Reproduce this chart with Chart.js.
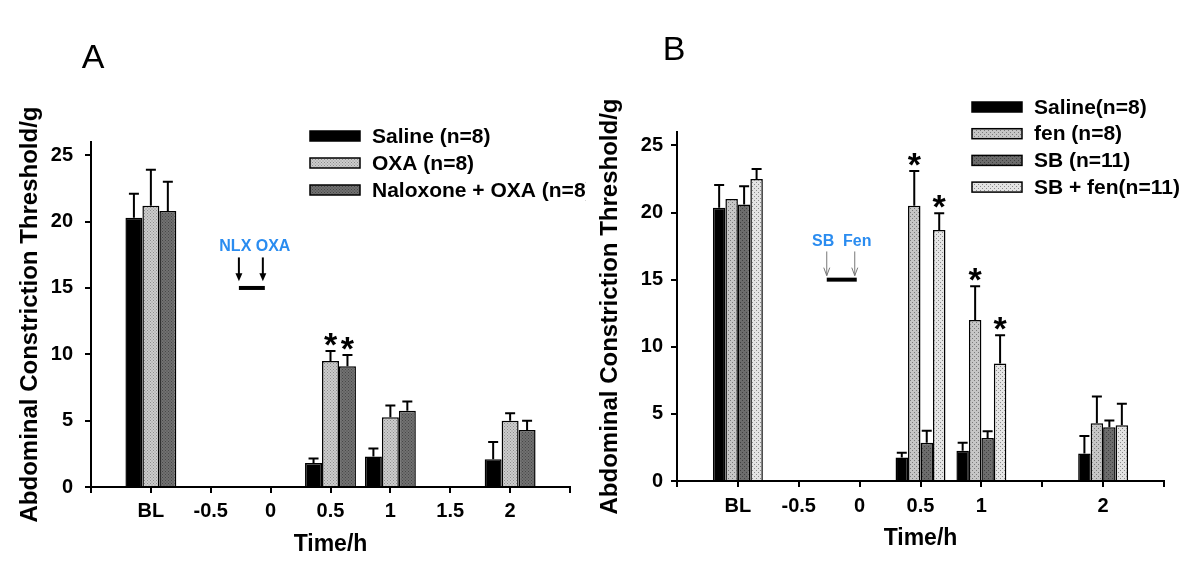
<!DOCTYPE html>
<html>
<head>
<meta charset="utf-8">
<script src="https://cdn.jsdelivr.net/npm/chart.js@4.4.0/dist/chart.umd.min.js"></script>
<style>
  body { margin: 0; background: #fff; }
  #wrap { position: relative; width: 1200px; height: 581px; background: #fff; }
  #panelA { position: absolute; left: 0; top: 0; }
  #panelB { position: absolute; left: 586px; top: 0; }
</style>
</head>
<body>
<div id="wrap">
  <canvas id="panelA" width="586" height="581" style="width:586px;height:581px"></canvas>
  <canvas id="panelB" width="614" height="581" style="width:614px;height:581px"></canvas>
</div>
<script>
// ---- shared ----
const yTickValues = [0, 5, 10, 15, 20, 25];

// ---- panel A data ----
const labelsA = ['', 'BL', '-0.5', '0', '0.5', '1', '1.5', '2', ''];
const salineA = [null, 20.3, null, null, 1.8, 2.3, null, 2.1, null];
const salineAErr = [null, 1.8, null, null, 0.35, 0.6, null, 1.3, null];
const oxaA = [null, 21.2, null, null, 9.5, 5.25, null, 5.0, null];
const oxaAErr = [null, 2.7, null, null, 0.75, 0.9, null, 0.55, null];
const naloxA = [null, 20.8, null, null, 9.1, 5.75, null, 4.3, null];
const naloxAErr = [null, 2.2, null, null, 0.85, 0.7, null, 0.7, null];
const oxaAStars = [4];
const naloxAStars = [4];

// ---- panel B data ----
const labelsB = ['', 'BL', '-0.5', '0', '0.5', '1', '', '2', ''];
const salineB = [null, 20.35, null, null, 1.75, 2.25, null, 2.05, null];
const salineBErr = [null, 1.7, null, null, 0.35, 0.6, null, 1.3, null];
const fenB = [null, 21.0, null, null, 20.5, 12.0, null, 4.3, null];
const fenBErr = [null, 0, null, null, 2.6, 2.5, null, 2.0, null];
const sbB = [null, 20.6, null, null, 2.85, 3.2, null, 4.0, null];
const sbBErr = [null, 1.35, null, null, 0.9, 0.5, null, 0.5, null];
const sbFenB = [null, 22.5, null, null, 18.7, 8.75, null, 4.15, null];
const sbFenBErr = [null, 0.75, null, null, 1.25, 2.1, null, 1.6, null];
const fenBStars = [4, 5];
const sbFenBStars = [4, 5];

const FONT = 'Arial, "Liberation Sans", sans-serif';

function dots(base, dot, size) {
    const c = document.createElement('canvas');
    c.width = size; c.height = size;
    const g = c.getContext('2d');
    g.fillStyle = base;
    g.fillRect(0, 0, size, size);
    g.fillStyle = dot;
    g.fillRect(0, 0, 1, 1);
    g.fillRect(size / 2, size / 2, 1, 1);
    return g.createPattern(c, 'repeat');
}

// error bars + significance stars
const errorBars = {
    id: 'errorBars',
    afterDatasetsDraw(chart) {
        const ctx = chart.ctx;
        const y = chart.scales.y;
        ctx.save();
        chart.data.datasets.forEach((ds, i) => {
            const meta = chart.getDatasetMeta(i);
            meta.data.forEach((bar, j) => {
                const v = ds.data[j];
                if (v == null || isNaN(bar.x)) return;
                const e = ds.errors[j] || 0;
                const top = y.getPixelForValue(v + e);
                if (e > 0) {
                    ctx.strokeStyle = '#000';
                    ctx.lineWidth = 2;
                    ctx.beginPath();
                    ctx.moveTo(bar.x, bar.y);
                    ctx.lineTo(bar.x, top);
                    ctx.moveTo(bar.x - 5, top);
                    ctx.lineTo(bar.x + 5, top);
                    ctx.stroke();
                }
                if (ds.stars.includes(j)) {
                    ctx.fillStyle = '#000';
                    ctx.font = 'bold 34px ' + FONT;
                    ctx.textAlign = 'center';
                    ctx.textBaseline = 'alphabetic';
                    ctx.fillText('*', bar.x, top + 5);
                }
            });
        });
        ctx.restore();
    }
};

// panel letter, legend and dosing marker
const decor = {
    id: 'decor',
    afterDraw(chart, args, o) {
        const ctx = chart.ctx;
        ctx.save();
        ctx.fillStyle = '#000';
        ctx.font = '34px ' + FONT;
        ctx.textAlign = 'center';
        ctx.textBaseline = 'middle';
        ctx.fillText(o.letter, o.letterX, o.letterY);

        ctx.font = 'bold 21px ' + FONT;
        ctx.textAlign = 'left';
        chart.data.datasets.forEach((ds, i) => {
            const cy = o.legendY + i * o.legendStep;
            ctx.fillStyle = ds.backgroundColor;
            ctx.fillRect(o.legendX, cy - 5, 50, 10);
            ctx.lineWidth = 1.5;
            ctx.strokeStyle = '#000';
            ctx.strokeRect(o.legendX, cy - 5, 50, 10);
            ctx.fillStyle = '#000';
            ctx.fillText(ds.label, o.legendX + 62, cy + 1);
        });

        const m = o.marker;
        const xs = chart.scales.x, ys = chart.scales.y;
        const x1 = xs.getPixelForValue(m.at[0]);
        const x2 = xs.getPixelForValue(m.at[1]);
        ctx.fillStyle = m.textColor;
        ctx.font = 'bold 16px ' + FONT;
        ctx.textAlign = 'center';
        ctx.fillText(m.text, (x1 + x2) / 2 + m.textShift, ys.getPixelForValue(m.textY));

        const yTop = ys.getPixelForValue(m.arrowTop);
        const yEnd = ys.getPixelForValue(m.arrowEnd);
        [x1, x2].forEach(x => {
            ctx.strokeStyle = m.arrowColor;
            ctx.fillStyle = m.arrowColor;
            ctx.lineWidth = m.arrowWidth;
            ctx.beginPath();
            ctx.moveTo(x, yTop);
            ctx.lineTo(x, yEnd - (m.filledHead ? 6 : 0));
            ctx.stroke();
            ctx.beginPath();
            if (m.filledHead) {
                ctx.moveTo(x - 3.5, yEnd - 8);
                ctx.lineTo(x + 3.5, yEnd - 8);
                ctx.lineTo(x, yEnd);
                ctx.closePath();
                ctx.fill();
            } else {
                ctx.moveTo(x - 3, yEnd - 8);
                ctx.lineTo(x, yEnd);
                ctx.lineTo(x + 3, yEnd - 8);
                ctx.stroke();
            }
        });
        const yBar = ys.getPixelForValue(m.barY);
        ctx.strokeStyle = '#000';
        ctx.lineWidth = 4;
        ctx.beginPath();
        ctx.moveTo(x1, yBar);
        ctx.lineTo(x2 + 2, yBar);
        ctx.stroke();
        ctx.restore();
    }
};

function scales(labels, s) {
    return {
        x: {
            type: 'category',
            labels: labels,
            offset: false,
            grid: { offset: false, drawOnChartArea: false, tickLength: 6, color: '#000', lineWidth: 2 },
            border: { color: '#000', width: 2 },
            ticks: { color: '#000', font: { family: FONT, size: 20, weight: 'bold' }, padding: s.xPad, autoSkip: false, maxRotation: 0 },
            title: { display: true, text: 'Time/h', color: '#000', font: { family: FONT, size: 23, weight: 'bold' }, padding: { top: 4, bottom: 4 } },
            afterFit: sc => { sc.height = s.xH; }
        },
        y: {
            min: 0,
            max: 26,
            grid: { drawOnChartArea: false, tickLength: 6, color: '#000', lineWidth: 2 },
            border: { color: '#000', width: 2 },
            ticks: { color: '#000', font: { family: FONT, size: 20, weight: 'bold' }, padding: s.yPad },
            afterBuildTicks: sc => { sc.ticks = yTickValues.map(v => ({ value: v })); },
            title: { display: true, text: 'Abdominal Constriction Threshold/g', color: '#000', font: { family: FONT, size: 24, weight: 'bold' }, padding: { top: 4, bottom: 4 } },
            afterFit: sc => { sc.width = s.yW; }
        }
    };
}

function barSet(label, data, errors, stars, fill) {
    return {
        label: label, data: data, errors: errors, stars: stars,
        backgroundColor: fill, borderColor: '#000', borderWidth: 1.5,
        barPercentage: 1.0
    };
}

const fillOxa = dots('#cdcdcd', '#8c8c8c', 3);
const fillNalox = dots('#717171', '#474747', 3);
const fillFen = dots('#c6c6c6', '#7a7a7a', 4);
const fillSb = dots('#6c6c6c', '#404040', 4);
const fillSbFen = dots('#e4e4e4', '#8a8a8a', 4);

new Chart(document.getElementById('panelA'), {
    type: 'bar',
    data: {
        labels: labelsA,
        datasets: [
            barSet('Saline (n=8)', salineA, salineAErr, [], '#000'),
            barSet('OXA (n=8)', oxaA, oxaAErr, oxaAStars, fillOxa),
            barSet('Naloxone + OXA (n=8)', naloxA, naloxAErr, naloxAStars, fillNalox)
        ]
    },
    options: {
        responsive: false,
        animation: false,
        categoryPercentage: 0.85,
        layout: { autoPadding: false, padding: { left: 12, right: 16, top: 142, bottom: 19 } },
        scales: scales(labelsA, { xPad: 6, yPad: 12, xH: 75, yW: 79 }),
        plugins: {
            legend: { display: false },
            tooltip: { enabled: false },
            decor: {
                letter: 'A', letterX: 93, letterY: 59,
                legendX: 310, legendY: 136, legendStep: 27,
                marker: { text: 'NLX OXA', at: [2.47, 2.87], textY: 18.1, textShift: 4, textColor: '#2a8cf0',
                          arrowTop: 17.3, arrowEnd: 15.5, barY: 15, arrowColor: '#000', arrowWidth: 2, filledHead: true }
            }
        }
    },
    plugins: [errorBars, decor]
});

new Chart(document.getElementById('panelB'), {
    type: 'bar',
    data: {
        labels: labelsB,
        datasets: [
            barSet('Saline(n=8)', salineB, salineBErr, [], '#000'),
            barSet('fen (n=8)', fenB, fenBErr, fenBStars, fillFen),
            barSet('SB (n=11)', sbB, sbBErr, [], fillSb),
            barSet('SB + fen(n=11)', sbFenB, sbFenBErr, sbFenBStars, fillSbFen)
        ]
    },
    options: {
        responsive: false,
        animation: false,
        categoryPercentage: 0.82,
        layout: { autoPadding: false, padding: { left: 6, right: 36, top: 132, bottom: 25 } },
        scales: scales(labelsB, { xPad: 7, yPad: 8, xH: 75, yW: 85 }),
        plugins: {
            legend: { display: false },
            tooltip: { enabled: false },
            decor: {
                letter: 'B', letterX: 88, letterY: 51,
                legendX: 386, legendY: 107, legendStep: 26.7,
                marker: { text: 'SB  Fen', at: [2.46, 2.92], textY: 17.8, textShift: 1, textColor: '#2a8cf0',
                          arrowTop: 17.1, arrowEnd: 15.3, barY: 15, arrowColor: '#777', arrowWidth: 1, filledHead: false }
            }
        }
    },
    plugins: [errorBars, decor]
});
</script>
</body>
</html>
